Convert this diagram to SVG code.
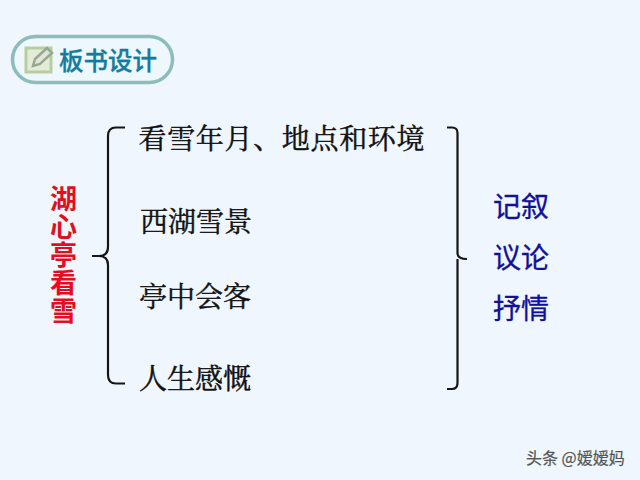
<svg xmlns="http://www.w3.org/2000/svg" width="640" height="480" viewBox="0 0 640 480">
<style>
text{font-family:"Noto Sans CJK SC","Liberation Sans",sans-serif}
.item{font-family:"Noto Serif CJK SC","Noto Sans CJK SC",sans-serif;font-size:28px;fill:#111;stroke:#111;stroke-width:.45px}
.blue{font-size:28px;fill:#10109a;font-weight:400;stroke:#10109a;stroke-width:.3px}
.red{font-size:27px;fill:#e01020;font-weight:700;writing-mode:vertical-rl;letter-spacing:1px}
.brace{fill:none;stroke:#151515;stroke-width:2.2}
</style>
<rect width="640" height="480" fill="#eff6fd"/>
<g id="title">
<rect x="12.500" y="36.500" width="160" height="46" rx="23" fill="#eef7fb" stroke="#8dbcbc" stroke-width="3.500"/>
<rect x="26" y="48" width="25" height="24" fill="#e4ebd8" stroke="#b7cf9f" stroke-width="3"/>
<path d="M33 66l2-7 12-11 5 5-12 11z" fill="#dfe6d6" stroke="#98a890" stroke-width="2.500"/>
<text x="59" y="70" font-size="24.500" font-weight="500" fill="#137c9e" stroke="#137c9e" stroke-width=".3" textLength="98">板书设计</text>
</g>
<g id="left-label">
<text class="red" x="63.500" y="185">湖心亭看雪</text>
</g>
<g id="connectors">
<path class="brace" d="M125 127.500H116Q108 127.500 108 136V247Q108 256 99 256H92M99 256Q108 256 108 265V375Q108 383.500 116 383.500H125"/>
<path class="brace" d="M447 127.500H452Q457.500 127.500 457.500 133V253Q457.500 259 467 259M457.500 259V383Q457.500 389 452 389H447"/>
</g>
<g id="items">
<text class="item" x="138.500" y="148.500" textLength="286">看雪年月、地点和环境</text>
<text class="item" x="140" y="231.500">西湖雪景</text>
<text class="item" x="139" y="306.500">亭中会客</text>
<text class="item" x="139" y="388.500">人生感慨</text>
</g>
<g id="right-labels">
<text class="blue" x="493" y="217">记叙</text>
<text class="blue" x="493" y="268">议论</text>
<text class="blue" x="493" y="319">抒情</text>
</g>
<g id="watermark">
<text x="526" y="464" font-size="16" fill="#555" stroke="#555" stroke-width=".2">头条 @嫒嫒妈</text>
</g>
</svg>
